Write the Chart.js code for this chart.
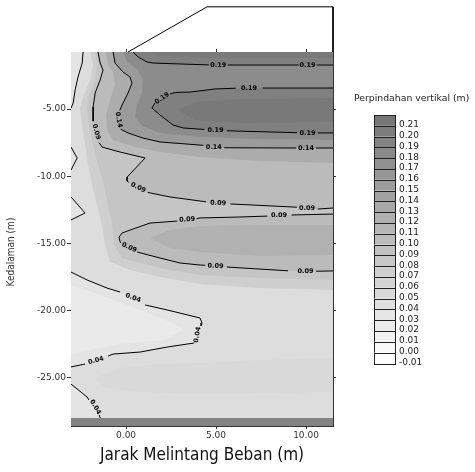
<!DOCTYPE html>
<html>
<head>
<meta charset="utf-8">
<script src="https://cdn.jsdelivr.net/npm/chart.js@4/dist/chart.umd.min.js"></script>
<style>html,body{margin:0;padding:0;background:#fff}</style>
</head>
<body>
<canvas id="chart1" width="475" height="472"></canvas>
<script>
// axes (m)
const X_MIN = -3.06, X_MAX = 11.5, Y_MIN = -28.57, Y_MAX = -0.76;
const X_TICKS = [0, 5, 10];
const Y_TICKS = [-5, -10, -15, -20, -25];
const LEGEND_TITLE = 'Perpindahan vertikal (m)';
const LEGEND_VALUES = ['0.21', '0.20', '0.19', '0.18', '0.17', '0.16', '0.15', '0.14', '0.13', '0.12', '0.11',
    '0.10', '0.09', '0.08', '0.07', '0.06', '0.05', '0.04', '0.03', '0.02', '0.01', '0.00', '-0.01'];

const GAP = {x: null, y: null}; // line is broken where a label sits

// contour lines
const C019_TOP = [{x: 0.39, y: -0.76}, {x: 0.67, y: -1.13}, {x: 1.17, y: -1.51}, {x: 1.5, y: -1.58}, {x: 3.0, y: -1.65},
    {x: 4.6, y: -1.72}, GAP, {x: 5.65, y: -1.73}, {x: 9.6, y: -1.73}, GAP, {x: 10.6, y: -1.73}, {x: 11.5, y: -1.73}];
const C019_CORE = [{x: 11.5, y: -3.44}, {x: 7.6, y: -3.44}, GAP, {x: 6.1, y: -3.45}, {x: 4.94, y: -3.51}, {x: 3.56, y: -3.74},
    {x: 2.83, y: -3.76}, {x: 2.45, y: -3.86}, GAP, {x: 1.6, y: -4.55}, {x: 1.44, y: -4.93}, {x: 1.89, y: -5.45},
    {x: 2.61, y: -6.19}, {x: 3.17, y: -6.41}, {x: 4.35, y: -6.52}, GAP, {x: 5.6, y: -6.62}, {x: 9.5, y: -6.76}, GAP,
    {x: 10.65, y: -6.78}, {x: 11.5, y: -6.78}];
const C014 = [{x: -0.72, y: -0.76}, {x: -0.61, y: -1.58}, {x: -0.17, y: -2.25}, {x: 0.22, y: -2.62}, {x: 0.33, y: -3.07},
    {x: 0.11, y: -3.81}, {x: -0.22, y: -4.7}, {x: -0.35, y: -5.1}, GAP, {x: -0.3, y: -6.5}, {x: 0.11, y: -6.78},
    {x: 0.94, y: -7.16}, {x: 1.89, y: -7.45}, {x: 4.3, y: -7.7}, GAP, {x: 5.45, y: -7.88}, {x: 9.45, y: -7.9}, GAP,
    {x: 10.55, y: -7.9}, {x: 11.5, y: -7.9}];
const C009_UP = [{x: -1.56, y: -0.76}, {x: -1.44, y: -1.58}, {x: -1.28, y: -2.1}, {x: -1.44, y: -2.84}, {x: -1.72, y: -3.81},
    {x: -1.83, y: -4.85}, {x: -1.83, y: -5.9}, GAP, {x: -1.5, y: -7.5}, {x: -1.33, y: -7.83}, {x: -0.33, y: -8.2},
    {x: 1.06, y: -8.64}, {x: 0.06, y: -10.06}, {x: 0.06, y: -10.36}, {x: 0.15, y: -10.45}, GAP, {x: 1.2, y: -11.2},
    {x: 2.44, y: -11.54}, {x: 4.45, y: -11.9}, GAP, {x: 5.8, y: -12.06}, {x: 9.5, y: -12.3}, GAP, {x: 10.65, y: -12.44},
    {x: 11.5, y: -12.36}];
const C009_LOOP = [{x: 11.5, y: -12.81}, {x: 9.2, y: -12.88}, GAP, {x: 7.85, y: -12.96}, {x: 6.33, y: -13.03},
    {x: 4.11, y: -13.1}, {x: 3.92, y: -13.15}, GAP, {x: 2.85, y: -13.33}, {x: 1.33, y: -13.48}, {x: 0.22, y: -14.0},
    {x: -0.22, y: -14.22}, {x: -0.39, y: -14.52}, {x: -0.33, y: -14.89}, {x: -0.28, y: -14.96}, GAP, {x: 0.61, y: -15.63},
    {x: 1.89, y: -16.08}, {x: 3.0, y: -16.45}, {x: 4.11, y: -16.6}, {x: 4.4, y: -16.62}, GAP, {x: 5.6, y: -16.75},
    {x: 9.0, y: -17.03}, GAP, {x: 10.56, y: -17.06}, {x: 11.5, y: -17.04}];
const C004_POCKET = [{x: -3.06, y: -17.12}, {x: -2.17, y: -17.71}, {x: -1.06, y: -18.31}, {x: -0.33, y: -18.61}, GAP,
    {x: 1.06, y: -19.57}, {x: 2.28, y: -19.94}, {x: 4.11, y: -20.54}, {x: 4.22, y: -20.91}, {x: 4.17, y: -21.13}, GAP,
    {x: 3.78, y: -22.4}, {x: 2.28, y: -22.7}, {x: 0.78, y: -23.07}, {x: -0.72, y: -23.22}, {x: -1.0, y: -23.37}, GAP,
    {x: -2.28, y: -23.96}, {x: -3.06, y: -24.18}];
const C004_CORNER = [{x: -3.06, y: -25.45}, {x: -2.17, y: -26.41}, {x: -2.06, y: -26.64}, GAP, {x: -1.5, y: -27.75},
    {x: -1.44, y: -27.97}];
const C004_TOPLEFT = [{x: -2.39, y: -0.76}, {x: -2.44, y: -1.58}, {x: -2.67, y: -2.62}, {x: -2.83, y: -3.59},
    {x: -2.94, y: -4.55}, {x: -3.06, y: -4.93}];
const C004_WEDGE1 = [{x: -3.06, y: -7.83}, {x: -2.72, y: -8.64}, {x: -3.06, y: -9.54}];
const C004_WEDGE2 = [{x: -3.06, y: -11.54}, {x: -2.28, y: -12.73}, {x: -3.06, y: -13.25}];

const CONTOUR_LABELS = [
    {x: 5.12, y: -1.73, text: '0.19', rot: 0}, {x: 10.08, y: -1.73, text: '0.19', rot: 0},
    {x: 6.83, y: -3.44, text: '0.19', rot: 0}, {x: 2.0, y: -4.2, text: '0.19', rot: -35},
    {x: 4.97, y: -6.58, text: '0.19', rot: 0}, {x: 10.08, y: -6.77, text: '0.19', rot: 0},
    {x: -0.42, y: -5.8, text: '0.14', rot: 80}, {x: 4.88, y: -7.83, text: '0.14', rot: 0},
    {x: 10.0, y: -7.9, text: '0.14', rot: 0},
    {x: -1.66, y: -6.7, text: '0.09', rot: 75}, {x: 0.67, y: -10.85, text: '0.09', rot: 25},
    {x: 5.11, y: -12.0, text: '0.09', rot: 3}, {x: 10.06, y: -12.38, text: '0.09', rot: 0},
    {x: 8.5, y: -12.92, text: '0.09', rot: 0}, {x: 3.39, y: -13.22, text: '0.09', rot: -3},
    {x: 0.17, y: -15.3, text: '0.09', rot: 25}, {x: 4.98, y: -16.68, text: '0.09', rot: 2},
    {x: 9.97, y: -17.06, text: '0.09', rot: 0},
    {x: 0.39, y: -19.05, text: '0.04', rot: 20}, {x: 3.97, y: -21.78, text: '0.04', rot: -80},
    {x: -1.67, y: -23.7, text: '0.04', rot: -15}, {x: -1.72, y: -27.16, text: '0.04', rot: 60},
];

// shading between the drawn lines, estimated from the grey tones
const SHADE_POCKET_IN = [{x: -3.06, y: -18.09}, {x: -1.44, y: -18.83}, {x: 0.78, y: -19.94}, {x: 2.44, y: -20.83},
    {x: 3.2, y: -21.4}, {x: 2.17, y: -22.17}, {x: -0.33, y: -22.47}, {x: -2.0, y: -22.92}, {x: -3.06, y: -23.29}];
const SHADE_005 = [{x: -1.72, y: -24.99}, {x: -0.33, y: -24.26}, {x: 1.89, y: -23.96}, {x: 4.11, y: -23.89},
    {x: 7.44, y: -23.66}, {x: 11.5, y: -23.51}, {x: 11.5, y: -26.04}, {x: 7.44, y: -26.12}, {x: 4.11, y: -26.19},
    {x: 0.78, y: -26.04}, {x: -1.17, y: -25.74}];
const SHADE_0065 = [{x: -2.0, y: -0.76}, {x: -1.83, y: -1.73}, {x: -2.0, y: -2.84}, {x: -2.33, y: -3.96},
    {x: -2.56, y: -4.93}, {x: -2.44, y: -6.19}, {x: -2.28, y: -7.68}, {x: -2.11, y: -9.16}, {x: -1.89, y: -10.65},
    {x: -1.61, y: -12.14}, {x: -1.33, y: -13.63}, {x: -1.17, y: -15.11}, {x: -0.89, y: -16.37}, {x: 0.22, y: -16.97},
    {x: 1.89, y: -17.49}, {x: 4.11, y: -18.01}, {x: 7.44, y: -18.31}, {x: 11.5, y: -18.46}, {x: 11.5, y: -0.76}];
const SHADE_0080 = [{x: -1.72, y: -0.76}, {x: -1.61, y: -1.73}, {x: -1.72, y: -2.84}, {x: -2.06, y: -3.96},
    {x: -2.17, y: -4.93}, {x: -2.06, y: -6.19}, {x: -1.83, y: -7.68}, {x: -1.56, y: -9.16}, {x: -1.22, y: -10.65},
    {x: -1.0, y: -12.14}, {x: -0.78, y: -13.63}, {x: -0.67, y: -15.11}, {x: -0.22, y: -16.08}, {x: 0.78, y: -16.45},
    {x: 2.44, y: -16.97}, {x: 4.11, y: -17.34}, {x: 7.44, y: -17.56}, {x: 11.5, y: -17.71}, {x: 11.5, y: -0.76}];
const SHADE_0115 = [{x: -1.11, y: -0.76}, {x: -1.0, y: -1.73}, {x: -0.72, y: -2.25}, {x: -0.61, y: -3.22},
    {x: -0.89, y: -4.33}, {x: -1.11, y: -5.45}, {x: -1.06, y: -6.56}, {x: -0.72, y: -7.3}, {x: 0.5, y: -7.83},
    {x: 1.89, y: -8.2}, {x: 4.11, y: -8.57}, {x: 7.44, y: -8.86}, {x: 11.5, y: -9.01}, {x: 11.5, y: -0.76}];
const SHADE_0115_LOOP = [{x: 1.33, y: -14.59}, {x: 2.44, y: -14.0}, {x: 4.11, y: -13.7}, {x: 7.44, y: -13.63},
    {x: 11.5, y: -13.63}, {x: 11.5, y: -15.86}, {x: 7.44, y: -15.93}, {x: 4.11, y: -15.63}, {x: 2.44, y: -15.33}];
const SHADE_0165 = [{x: -0.17, y: -0.76}, {x: 0.06, y: -1.51}, {x: 0.67, y: -2.1}, {x: 0.94, y: -2.84},
    {x: 0.89, y: -3.74}, {x: 0.61, y: -4.7}, {x: 0.5, y: -5.59}, {x: 0.89, y: -6.26}, {x: 1.89, y: -6.78},
    {x: 4.11, y: -7.08}, {x: 7.44, y: -7.23}, {x: 11.5, y: -7.3}, {x: 11.5, y: -0.76}];
const SHADE_0205_CORE = [{x: 2.89, y: -5.07}, {x: 3.83, y: -4.48}, {x: 6.33, y: -4.26}, {x: 11.5, y: -4.18},
    {x: 11.5, y: -5.97}, {x: 6.33, y: -6.04}, {x: 3.83, y: -5.82}];
const SHADE_0205_TOP = [{x: 1.33, y: -0.76}, {x: 1.89, y: -1.06}, {x: 4.11, y: -1.21}, {x: 11.5, y: -1.21},
    {x: 11.5, y: -0.76}];

const BASE = [{x: X_MIN, y: Y_MAX}, {x: X_MAX, y: Y_MAX}, {x: X_MAX, y: -27.97}, {x: X_MIN, y: -27.97}];
const BOTTOM_STRIP = [{x: X_MIN, y: -27.97}, {x: X_MAX, y: -27.97}, {x: X_MAX, y: Y_MIN}, {x: X_MIN, y: Y_MIN}];
const LOAD_OUTLINE = [{x: 0.11, y: -0.76}, {x: 4.5, y: 2.6}, {x: 11.5, y: 2.6}, {x: 11.5, y: -0.76}];

const shade = v => {
    const g = Math.max(0, Math.min(255, Math.round(119 + (0.21 - v) * 618)));
    return `rgb(${g},${g},${g})`;
};
const solid = line => line.filter(p => p.y !== null);

const area = (data, v) => ({data, fill: 'shape', backgroundColor: shade(v), borderWidth: 0, pointRadius: 0});
const contour = data => ({data, fill: false, borderColor: '#000', borderWidth: 1, pointRadius: 0, tension: 0});

const layers = [
    area(BASE, 0.045),
    area([...solid(C004_TOPLEFT), {x: X_MIN, y: Y_MAX}], 0.033),
    area(C004_WEDGE1, 0.033),
    area(C004_WEDGE2, 0.033),
    area(solid(C004_POCKET), 0.033),
    area([...solid(C004_CORNER), {x: X_MIN, y: -27.97}], 0.033),
    area(SHADE_POCKET_IN, 0.024),
    area(SHADE_005, 0.052),
    area(SHADE_0065, 0.068),
    area(SHADE_0080, 0.083),
    area([...solid(C009_UP), {x: X_MAX, y: Y_MAX}], 0.1),
    area(solid(C009_LOOP), 0.1),
    area(SHADE_0115, 0.125),
    area(SHADE_0115_LOOP, 0.116),
    area([...solid(C014), {x: X_MAX, y: Y_MAX}], 0.152),
    area(SHADE_0165, 0.176),
    area([...solid(C019_TOP), {x: X_MAX, y: Y_MAX}], 0.196),
    area(solid(C019_CORE), 0.196),
    area(SHADE_0205_CORE, 0.207),
    area(SHADE_0205_TOP, 0.205),
    area(BOTTOM_STRIP, 0.19),
    contour(C004_TOPLEFT), contour(C004_WEDGE1), contour(C004_WEDGE2), contour(C004_POCKET), contour(C004_CORNER),
    contour(C009_UP), contour(C009_LOOP), contour(C014), contour(C019_TOP), contour(C019_CORE),
    {...contour(LOAD_OUTLINE), clip: false},
];
const datasets = layers.map((d, i) => ({...d, xAxisID: 'x', yAxisID: 'y', order: layers.length - i}));

const contourLabels = {
    id: 'contourLabels',
    afterDatasetsDraw(chart) {
        const {ctx, scales: {x, y}} = chart;
        ctx.save();
        ctx.font = 'bold 6.5px "DejaVu Sans"';
        ctx.fillStyle = '#000';
        ctx.textAlign = 'center';
        ctx.textBaseline = 'middle';
        CONTOUR_LABELS.forEach(l => {
            ctx.save();
            ctx.translate(x.getPixelForValue(l.x), y.getPixelForValue(l.y));
            ctx.rotate(l.rot * Math.PI / 180);
            ctx.fillText(l.text, 0, 0);
            ctx.restore();
        });
        ctx.restore();
    }
};

const sideLegend = {
    id: 'sideLegend',
    afterDraw(chart) {
        const {ctx, chartArea: a} = chart;
        ctx.save();
        ctx.fillStyle = '#222';
        ctx.textBaseline = 'middle';
        ctx.font = '9.3px "DejaVu Sans"';
        ctx.fillText(LEGEND_TITLE, a.right + 21, 99);
        const x0 = a.right + 41, w = 21, top = 115, h = 10.8;
        ctx.font = '9px "DejaVu Sans"';
        LEGEND_VALUES.forEach((t, i) => {
            ctx.fillStyle = shade(parseFloat(t));
            ctx.fillRect(x0, top + i * h, w, h);
            ctx.strokeStyle = '#222';
            ctx.lineWidth = 1;
            ctx.strokeRect(Math.round(x0) + 0.5, Math.round(top + i * h) + 0.5, w, Math.round(h));
            ctx.fillStyle = '#222';
            ctx.fillText(t, x0 + w + 4, top + (i + 1) * h - 1);
        });
        // y axis title
        ctx.font = '10px "Liberation Sans Narrow", "DejaVu Sans Condensed", sans-serif';
        ctx.fillStyle = '#333';
        ctx.textAlign = 'center';
        ctx.translate(11.5, 252);
        ctx.rotate(-Math.PI / 2);
        ctx.fillText('Kedalaman (m)', 0, 0);
        ctx.restore();
    }
};

const tickFont = {family: 'DejaVu Sans', size: 9};
const frame = {color: '#333', width: 1};

new Chart(document.getElementById('chart1'), {
    type: 'line',
    data: {datasets},
    options: {
        responsive: false,
        animation: false,
        layout: {padding: 0},
        plugins: {legend: {display: false}, tooltip: {enabled: false}},
        scales: {
            x: {
                type: 'linear', position: 'bottom', min: X_MIN, max: X_MAX,
                afterBuildTicks: s => { s.ticks = X_TICKS.map(value => ({value})); },
                afterFit: s => { s.height = 46; },
                ticks: {callback: v => Number(v).toFixed(2), font: tickFont, color: '#333', padding: 1, maxRotation: 0, autoSkip: false},
                grid: {drawOnChartArea: false, tickLength: 3, color: '#333'},
                border: frame,
                title: {display: true, text: 'Jarak Melintang Beban (m)', color: '#111',
                    font: {family: 'DejaVu Sans Condensed', size: 17}, padding: {top: 0, bottom: 6}},
            },
            y: {
                type: 'linear', position: 'left', min: Y_MIN, max: Y_MAX,
                afterBuildTicks: s => { s.ticks = Y_TICKS.map(value => ({value})); },
                afterFit: s => { s.width = 71; },
                ticks: {callback: v => Number(v).toFixed(2), font: tickFont, color: '#333', padding: 1, autoSkip: false},
                grid: {drawOnChartArea: false, tickLength: 4, color: '#333'},
                border: frame,
            },
            xTop: {
                type: 'linear', position: 'top', min: X_MIN, max: X_MAX,
                afterBuildTicks: s => { s.ticks = X_TICKS.map(value => ({value})); },
                afterFit: s => { s.height = 52; },
                ticks: {display: false},
                grid: {drawOnChartArea: false, tickLength: 3, color: '#333'},
                border: frame,
            },
            yRight: {
                type: 'linear', position: 'right', min: Y_MIN, max: Y_MAX,
                afterBuildTicks: s => { s.ticks = Y_TICKS.map(value => ({value})); },
                afterFit: s => { s.width = 142; },
                ticks: {display: false},
                grid: {drawOnChartArea: false, tickLength: 3, color: '#333'},
                border: frame,
            },
        },
    },
    plugins: [contourLabels, sideLegend],
});
</script>
</body>
</html>
